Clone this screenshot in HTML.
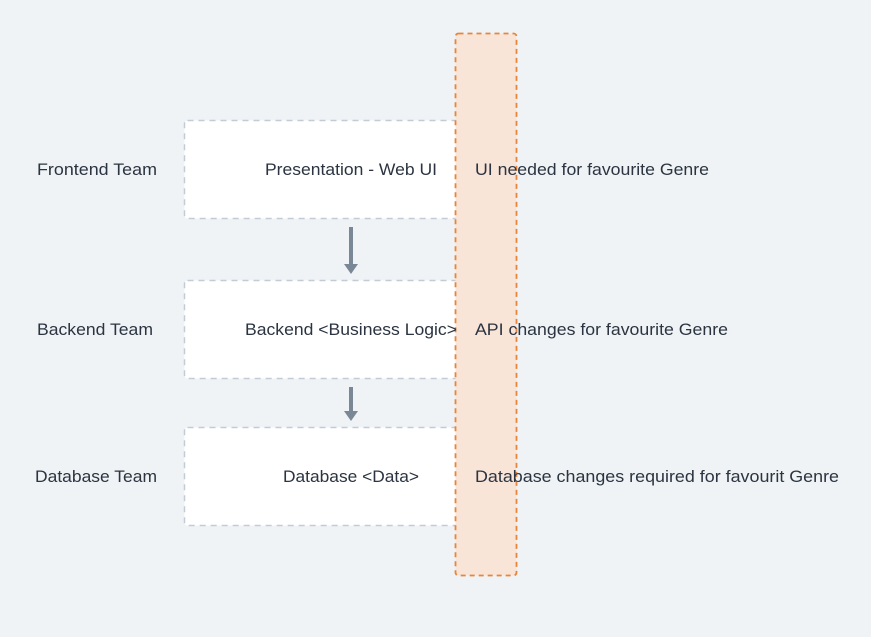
<!DOCTYPE html>
<html><head><style>
body{margin:0;background:#eff3f6;}
svg{display:block;font-family:"Liberation Sans",sans-serif;font-size:16.5px;fill:#2b3440;}
</style></head><body>
<svg width="871" height="637" viewBox="0 0 871 637">
<rect x="0" y="0" width="871" height="637" fill="#eff3f6"/>
<g fill="#fff" stroke="#c3ccd6" stroke-width="1.5" stroke-dasharray="6,5">
<rect x="184.5" y="120.5" width="300" height="98" rx="3"/>
<rect x="184.5" y="280.5" width="300" height="98" rx="3"/>
<rect x="184.5" y="427.5" width="300" height="98" rx="3"/>
</g>
<rect x="455.5" y="33.5" width="61" height="542" rx="3" fill="#f9e4d8" stroke="#e8853a" stroke-width="1.8" stroke-dasharray="5,4"/>
<g stroke="#7a8796" stroke-width="4"><line x1="351" y1="227" x2="351" y2="266"/><line x1="351" y1="387" x2="351" y2="412"/></g>
<g fill="#7a8796"><polygon points="344,264 358,264 351,274"/><polygon points="344,411 358,411 351,421"/></g>
<g fill="#2b3440" lengthAdjust="spacingAndGlyphs">
<text x="37" y="175" textLength="120" lengthAdjust="spacingAndGlyphs">Frontend Team</text>
<text x="37" y="335" textLength="116" lengthAdjust="spacingAndGlyphs">Backend Team</text>
<text x="35" y="482" textLength="122" lengthAdjust="spacingAndGlyphs">Database Team</text>
<text x="265" y="175" textLength="172" lengthAdjust="spacingAndGlyphs">Presentation - Web UI</text>
<text x="245" y="335" textLength="212" lengthAdjust="spacingAndGlyphs">Backend &lt;Business Logic&gt;</text>
<text x="283" y="482" textLength="136" lengthAdjust="spacingAndGlyphs">Database &lt;Data&gt;</text>
<text x="475" y="175" textLength="234" lengthAdjust="spacingAndGlyphs">UI needed for favourite Genre</text>
<text x="475" y="335" textLength="253" lengthAdjust="spacingAndGlyphs">API changes for favourite Genre</text>
<text x="475" y="482" textLength="364" lengthAdjust="spacingAndGlyphs">Database changes required for favourit Genre</text>
</g>
</svg>
</body></html>
